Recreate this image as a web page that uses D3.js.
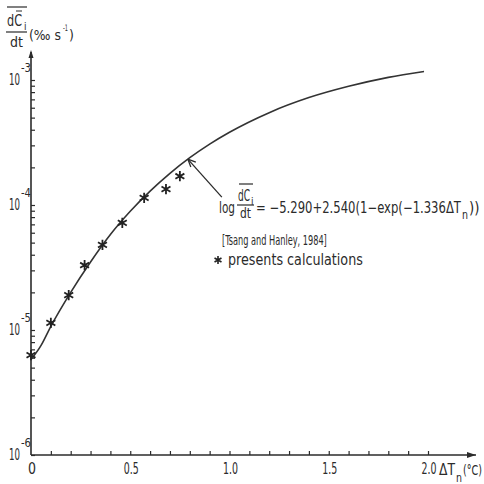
<!DOCTYPE html>
<html>
<head>
<meta charset="utf-8">
<script src="https://cdn.jsdelivr.net/npm/d3@7"></script>
<style>
body { margin: 0; background: #fff; }
svg { display: block; }
text { font-family: "DejaVu Sans Condensed", "DejaVu Sans", sans-serif; fill: #2b2b2b; }
</style>
</head>
<body>
<script>
// fitted curve (Tsang and Hanley, 1984)
var curveX = [0, 0.05, 0.1, 0.2, 0.3, 0.4, 0.5, 0.6, 0.7, 0.8, 0.9, 1.0, 1.2, 1.4, 1.6, 1.8, 1.98];
var curveY = [5.8e-6, 7.5e-6, 1.07e-5, 2.0e-5, 3.5e-5, 5.8e-5, 8.9e-5, 1.29e-4, 1.79e-4, 2.39e-4, 3.07e-4, 3.82e-4, 5.48e-4, 7.23e-4, 8.9e-4, 1.05e-3, 1.17e-3];

// present calculations (asterisks)
var calcX = [0, 0.1, 0.19, 0.27, 0.36, 0.46, 0.57, 0.68, 0.75];
var calcY = [6.3e-6, 1.14e-5, 1.9e-5, 3.3e-5, 4.8e-5, 7.2e-5, 1.14e-4, 1.34e-4, 1.7e-4];

var xTickValues = [0, 0.5, 1, 1.5, 2];
var xTickLabels = ['0', '0.5', '1.0', '1.5', '2.0'];
var yTickValues = [1e-6, 1e-5, 1e-4, 1e-3];
var yTickExps = ['-6', '-5', '-4', '-3'];

var width = 484, height = 484;
var ink = '#2b2b2b';

var x = d3.scaleLinear().domain([0, 2]).range([31, 428]);
var y = d3.scaleLog().domain([1e-6, 1e-3]).range([455, 80]);

var svg = d3.select('body').append('svg')
	.attr('width', width)
	.attr('height', height);

// text squeezed horizontally to the width it has in the scan
function label(str, px, py, size, len, anchor) {
	var g = svg.append('g');
	var t = g.append('text')
		.attr('font-size', size)
		.attr('text-anchor', anchor || 'start')
		.text(str);
	var k = 1;
	if (len) k = Math.min(1, len / t.node().getComputedTextLength());
	g.attr('transform', 'translate(' + px + ',' + py + ') scale(' + k + ',1)');
	return t;
}

function seg(x1, y1, x2, y2, w) {
	svg.append('line')
		.attr('x1', x1).attr('y1', y1).attr('x2', x2).attr('y2', y2)
		.attr('stroke', ink).attr('stroke-width', w || 1.3);
}

// axes lines with arrows
var x0 = x(0), yb = y(1e-6);
seg(x0, yb, 476, yb, 1.6);
svg.append('path').attr('d', 'M476,' + yb + 'l-9,-3v6z').attr('fill', ink);
seg(x0, yb, x0, 52, 1.6);
svg.append('path').attr('d', 'M' + x0 + ',50l-2.5,8h5z').attr('fill', ink);

// x minor ticks
var xAxis = d3.axisBottom(x)
	.tickValues(d3.range(1, 21).map(function(i) { return i / 10; }))
	.tickSize(-4)
	.tickFormat('');
var gx = svg.append('g').attr('transform', 'translate(0,' + yb + ')').call(xAxis);
gx.select('.domain').remove();
gx.selectAll('line').attr('stroke', ink).attr('stroke-width', 1.2);

// y minor ticks
var yMinor = [];
yTickValues.forEach(function(d, i) {
	if (i === yTickValues.length - 1) { yMinor.push(d); return; }
	for (var k = 1; k < 10; k++) yMinor.push(d * k);
});
var yAxis = d3.axisRight(y).tickValues(yMinor).tickSize(4).tickFormat('');
var gy = svg.append('g').attr('transform', 'translate(' + x0 + ',0)').call(yAxis);
gy.select('.domain').remove();
gy.selectAll('line').attr('stroke', ink).attr('stroke-width', 1.2);

// tick labels
xTickValues.forEach(function(d, i) {
	label(xTickLabels[i], x(d) + 1, 474, 15, i === 0 ? 8 : 15, 'middle');
});
yTickValues.forEach(function(d, i) {
	var ty = y(d);
	label('10', 20, ty + 5, 15, 11, 'end');
	label(yTickExps[i], 21, ty - 8, 12, 10, 'start');
});

// x axis title
label('\u0394T', 439, 475, 15, 16);
label('n', 456, 482, 12, 6);
label('(\u00b0C)', 463, 475, 14, 19);

// y axis title
seg(7, 7, 27, 7, 1.2);
label('dC', 7, 26, 15, 15);
seg(16, 11, 22, 11, 1);
label('i', 24, 30, 10);
seg(6, 32, 27, 32, 1.2);
label('dt', 10, 47, 14, 13);
label('(\u2030 s', 29, 40, 14, 32);
label('-1', 63, 31, 9, 5);
label(')', 69, 40, 14, 5);

// fitted curve
var line = d3.line()
	.x(function(d) { return x(d[0]); })
	.y(function(d) { return y(d[1]); })
	.curve(d3.curveMonotoneX);
svg.append('path')
	.datum(d3.zip(curveX, curveY))
	.attr('d', line)
	.attr('fill', 'none')
	.attr('stroke', '#333')
	.attr('stroke-width', 1.6);

// asterisks
var star = d3.symbol(d3.symbolAsterisk, 75);
svg.selectAll('.calc')
	.data(d3.zip(calcX, calcY))
	.enter()
	.append('path')
	.attr('class', 'calc')
	.attr('d', star)
	.attr('transform', function(d) { return 'translate(' + x(d[0]) + ',' + y(d[1]) + ')'; })
	.attr('fill', 'none')
	.attr('stroke', '#222')
	.attr('stroke-width', 1.8);

// annotation arrow
var tipX = x(0.79), tipY = y(2.33e-4);
seg(tipX, tipY, tipX + 34, tipY + 38, 1.3);
seg(tipX, tipY, tipX + 8, tipY + 3, 1.3);
seg(tipX, tipY, tipX + 3, tipY + 8, 1.3);

// equation
label('log', 219, 213, 15, 16);
seg(239, 184, 253, 184, 1.2);
label('dC', 238, 201, 15, 12);
label('i', 251, 205, 10);
seg(237, 205, 254, 205, 1.2);
label('dt', 240, 218, 14, 11);
label('= \u22125.290+2.540(1\u2212exp(\u22121.336\u0394T', 256, 213, 15, 205);
label('n', 462, 219, 12, 6);
label('))', 469, 213, 15, 12);
label('[Tsang and Hanley, 1984]', 222, 245, 14, 105);

// legend
svg.append('path')
	.attr('d', d3.symbol(d3.symbolAsterisk, 45)())
	.attr('transform', 'translate(218,260)')
	.attr('fill', 'none')
	.attr('stroke', '#222')
	.attr('stroke-width', 1.6);
label('presents calculations', 228, 265, 15, 135);
</script>
</body>
</html>
